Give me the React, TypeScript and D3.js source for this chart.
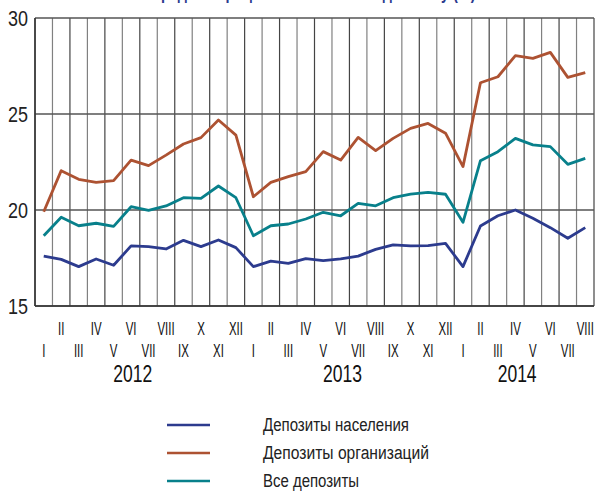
import * as d3 from "d3"

const months = [
  "I", "II", "III", "IV", "V", "VI", "VII", "VIII", "IX", "X", "XI", "XII",
  "I", "II", "III", "IV", "V", "VI", "VII", "VIII", "IX", "X", "XI", "XII",
  "I", "II", "III", "IV", "V", "VI", "VII", "VIII",
]
const years = ["2012", "2013", "2014"]
const yearMid = [5.1, 17.1, 27.1]

const population = [
  17.6, 17.43, 17.05, 17.45, 17.12, 18.13, 18.09, 17.97, 18.42, 18.09, 18.44, 18.04,
  17.05, 17.34, 17.22, 17.47, 17.36, 17.45, 17.6, 17.95, 18.18, 18.13, 18.14, 18.26,
  17.05, 19.17, 19.7, 20.0, 19.57, 19.08, 18.53, 19.08,
]
const organizations = [
  19.91, 22.05, 21.6, 21.44, 21.53, 22.6, 22.31, 22.86, 23.44, 23.77, 24.69, 23.9,
  20.69, 21.44, 21.74, 22.0, 23.04, 22.6, 23.78, 23.09, 23.73, 24.25, 24.51, 24.0,
  22.26, 26.63, 26.94, 28.04, 27.9, 28.21, 26.91, 27.15,
]
const allDeposits = [
  18.66, 19.62, 19.18, 19.31, 19.15, 20.17, 19.98, 20.21, 20.64, 20.61, 21.25, 20.64,
  18.66, 19.18, 19.27, 19.53, 19.88, 19.7, 20.35, 20.22, 20.64, 20.83, 20.92, 20.82,
  19.36, 22.57, 23.04, 23.73, 23.39, 23.3, 22.38, 22.69,
]
const yTicks = [15, 20, 25, 30]

const seriesNames = ["Депозиты населения", "Депозиты  организаций", "Все депозиты"]
const seriesColors = ["#2c3b8e", "#ad5232", "#08808b"]
const seriesValues = [population, organizations, allDeposits]
// reference text widths of the legend labels
const legendWidths = [146, 166, 96]

const W = 595
const H = 493
const left = 35
const right = 594
const top = 18
const bottom = 306
const font = "'Liberation Sans', Arial, sans-serif"

export default function App() {
  const idx = months.map((_, i) => i)
  const x = d3.scaleBand<number>().domain(idx).range([left, right]).padding(0)
  const y = d3.scaleLinear().domain([15, 30]).range([bottom, top])
  const cx = (i: number) => (x(i) as number) + x.bandwidth() / 2

  const line = d3
    .line<number>()
    .x((_, i) => cx(i))
    .y((d) => y(d))

  const vLines = [...idx.map((i) => x(i) as number), right]

  return (
    <svg
      width={W}
      height={H}
      style={{ position: "absolute", left: 0, top: 0, background: "#fff" }}
      fontFamily={font}
    >
      {/* title, mostly cropped off the top as in the source image */}
      <text
        x={313}
        y={-1}
        textAnchor="middle"
        fontSize={20}
        fontWeight="bold"
        fill="#2c3b8e"
        textLength={325}
        lengthAdjust="spacingAndGlyphs"
      >
        Средние процентные ставки по депозиту (%)
      </text>

      {vLines.map((vx, i) => (
        <line
          key={"v" + i}
          x1={vx}
          x2={vx}
          y1={top}
          y2={bottom}
          stroke={i % 2 === 0 ? "#444" : "#808080"}
          strokeWidth={1.2}
        />
      ))}
      {yTicks.map((t) => (
        <line
          key={"h" + t}
          x1={left}
          x2={right}
          y1={y(t)}
          y2={y(t)}
          stroke="#555"
          strokeWidth={1.5}
        />
      ))}
      <line x1={left} x2={right} y1={bottom} y2={bottom} stroke="#333" strokeWidth={1.5} />
      <line x1={left} x2={left} y1={top} y2={bottom} stroke="#333" strokeWidth={1.5} />

      {yTicks.map((t) => (
        <text
          key={"yt" + t}
          x={8}
          y={y(t)}
          dy="0.36em"
          fontSize={22}
          fill="#222"
          textLength={20}
          lengthAdjust="spacingAndGlyphs"
        >
          {t}
        </text>
      ))}

      {seriesValues.map((vals, s) => (
        <path
          key={"s" + s}
          d={line(vals) ?? ""}
          fill="none"
          stroke={seriesColors[s]}
          strokeWidth={2.8}
          strokeLinejoin="round"
        />
      ))}

      {months.map((m, i) => (
        <text
          key={"m" + i}
          transform={`translate(${cx(i)},${i % 2 === 0 ? 357 : 335}) scale(0.62,1)`}
          textAnchor="middle"
          fontSize={18.5}
          fill="#111"
        >
          {m}
        </text>
      ))}
      {years.map((yr, i) => (
        <text
          key={"y" + yr}
          x={cx(0) + yearMid[i] * x.step() - 19.5}
          y={382}
          fontSize={23}
          fill="#111"
          textLength={39}
          lengthAdjust="spacingAndGlyphs"
        >
          {yr}
        </text>
      ))}

      {seriesNames.map((n, i) => (
        <g key={"l" + i} transform={`translate(0,${425 + i * 28})`}>
          <line x1={167} x2={210} y1={0} y2={0} stroke={seriesColors[i]} strokeWidth={2.5} />
          <text
            x={263}
            y={0}
            dy="0.35em"
            fontSize={18}
            fill="#222"
            textLength={legendWidths[i]}
            lengthAdjust="spacingAndGlyphs"
          >
            {n}
          </text>
        </g>
      ))}
    </svg>
  )
}
